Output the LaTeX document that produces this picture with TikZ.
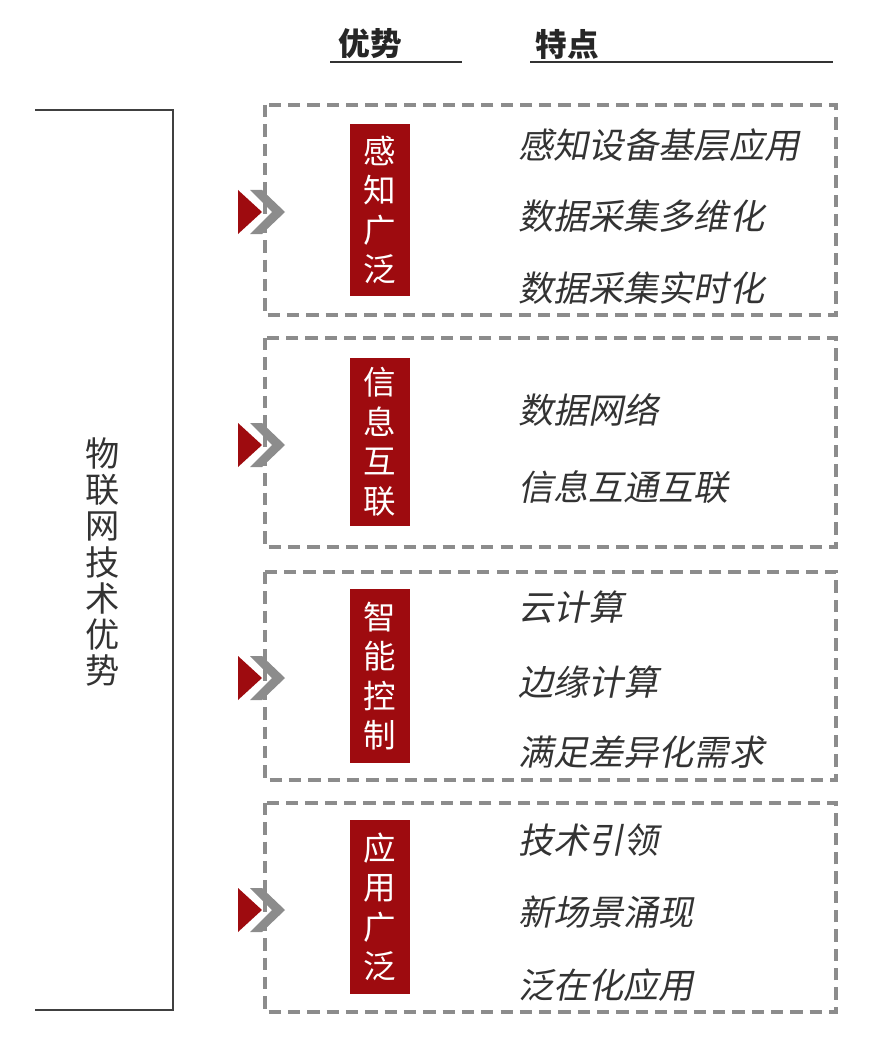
\documentclass[tikz,border=0pt]{standalone}
\usepackage{fontspec}
\setmainfont{Noto Sans CJK SC}
\newfontfamily\slfont[FakeSlant=0.2]{Noto Sans CJK SC}
\definecolor{darkred}{HTML}{9E0B0F}
\definecolor{boxgray}{HTML}{8C8C8C}
\tikzset{
  itembox/.style={draw=boxgray, line width=2.2pt, dash pattern=on 7pt off 4pt},
  tag/.style={fill=darkred, text=white, minimum width=34pt, align=center,
    font=\fontsize{18.5}{22.5}\selectfont, inner sep=0pt},
  feat/.style={anchor=west, text=black!80, font=\slfont\fontsize{20}{22}\selectfont},
  head/.style={font=\bfseries\fontsize{18}{22}\selectfont, text=black!85}
}
\newcommand{\chevron}[1]{%
  \fill[darkred] (238,#1-22) -- (262,#1) -- (238,#1+22) -- cycle;
  \fill[boxgray] (250,#1-22) -- (262,#1-22) -- (285,#1) -- (262,#1+22) -- (250,#1+22) -- (272,#1) -- cycle;
}
\begin{document}
\begin{tikzpicture}[x=0.02cm, y=-0.02cm]
    \useasboundingbox (0,0) rectangle (880,1037);

    % headers
    \node[head] (hadv) at (370,44) {优势};
    \node[head] (hfeat) at (567,44) {特点};
    \draw[line width=1.5pt, black!80] (330,62) -- (462,62);
    \draw[line width=1.5pt, black!80] (530,62) -- (833,62);

    % bracket
    \draw[line width=1.5pt, black!75] (35,110) -- (173,110) -- (173,1010) -- (35,1010);
    \node[align=center, text=black!80, font=\fontsize{19.5}{20.5}\selectfont] (main) at (103,562)
      {物\\联\\网\\技\\术\\优\\势};

    % boxes
    \draw[itembox] (265,105) rectangle (836,315);
    \draw[itembox] (265,338) rectangle (836,547);
    \draw[itembox] (265,572) rectangle (836,780);
    \draw[itembox] (265,803) rectangle (836,1012);

    \chevron{212}
    \chevron{445}
    \chevron{678}
    \chevron{910}

    % tags
    \node[tag, minimum height=98pt] (t1) at (380,210) {感\\知\\广\\泛};
    \node[tag, minimum height=96pt] (t2) at (380,442) {信\\息\\互\\联};
    \node[tag, minimum height=99pt] (t3) at (380,676) {智\\能\\控\\制};
    \node[tag, minimum height=99pt] (t4) at (380,907) {应\\用\\广\\泛};

    % features
    \node[feat] (f11) at (512,145) {感知设备基层应用};
    \node[feat] (f12) at (512,216) {数据采集多维化};
    \node[feat] (f13) at (512,288) {数据采集实时化};
    \node[feat] (f21) at (512,410) {数据网络};
    \node[feat] (f22) at (512,487) {信息互通互联};
    \node[feat] (f31) at (512,607) {云计算};
    \node[feat] (f32) at (512,682) {边缘计算};
    \node[feat] (f33) at (512,752) {满足差异化需求};
    \node[feat] (f41) at (512,840) {技术引领};
    \node[feat] (f42) at (512,912) {新场景涌现};
    \node[feat] (f43) at (512,985) {泛在化应用};
\end{tikzpicture}
\end{document}
